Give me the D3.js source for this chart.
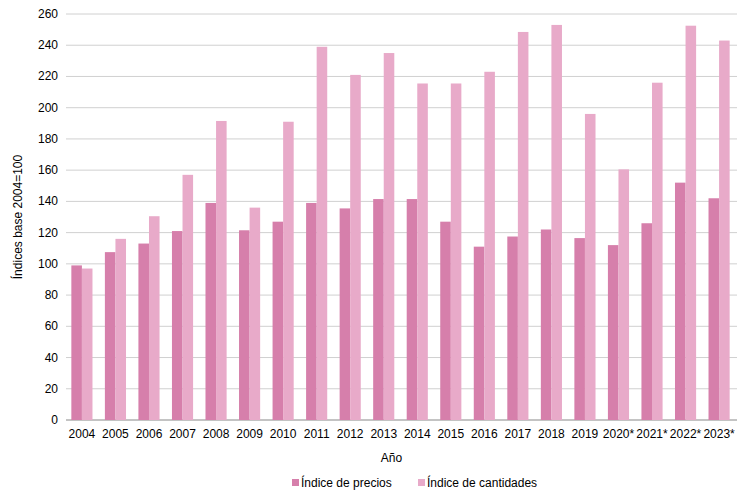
<!DOCTYPE html>
<html><head><meta charset="utf-8">
<script src="https://cdn.jsdelivr.net/npm/d3@7"></script>
<style>body{margin:0;background:#fff}text{font-family:Arial,"Liberation Sans",sans-serif}</style>
</head><body><svg id="c" width="742" height="490"></svg>
<script>
const years=["2004","2005","2006","2007","2008","2009","2010","2011","2012","2013","2014","2015","2016","2017","2018","2019","2020*","2021*","2022*","2023*"];
const precios=[99,107.5,113,121,139,121.5,127,139,135.5,141.5,141.5,127,111,117.5,122,116.5,112,126,152,142];
const cantidades=[97,116,130.5,157,191.5,136,191,239,221,235,215.5,215.5,223,248.5,253,196,160.5,216,252.5,243];
const yTicks=d3.range(0,261,20);
const series=[{name:"Índice de precios",vals:precios,color:"#d67fab"},{name:"Índice de cantidades",vals:cantidades,color:"#e8aac9"}];
const svg=d3.select("#c");
const L=66,R=737,T=14,B=420;
const x=d3.scaleBand().domain(years).range([L+2,R-4]).paddingInner(0.37).paddingOuter(0.1);
const x1=d3.scaleBand().domain([0,1]).range([0,x.bandwidth()]);
const y=d3.scaleLinear().domain([0,260]).range([B,T]);
svg.append("g").selectAll("line").data(yTicks).join("line").attr("x1",L).attr("x2",R).attr("y1",d=>y(d)).attr("y2",d=>y(d)).attr("stroke",d=>d===0?"#888":"#d0d0d0").attr("stroke-width",1);
svg.append("g").selectAll("text").data(yTicks).join("text").attr("x",L-8).attr("y",d=>y(d)+4).attr("text-anchor","end").attr("font-size",12).text(d=>d);
series.forEach((s,i)=>{
  svg.append("g").selectAll("rect").data(years).join("rect").attr("x",d=>x(d)+x1(i)).attr("width",x1.bandwidth()).attr("y",(d,j)=>y(s.vals[j])).attr("height",(d,j)=>B-y(s.vals[j])).attr("fill",s.color);
});
svg.append("g").selectAll("text").data(years).join("text").attr("x",d=>x(d)+x.bandwidth()/2).attr("y",B+18).attr("text-anchor","middle").attr("font-size",12).text(d=>d);
svg.append("text").attr("x",(L+R)/2-10).attr("y",462).attr("text-anchor","middle").attr("font-size",12).text("Año");
svg.append("text").attr("transform","translate(22,"+((T+B)/2)+") rotate(-90)").attr("text-anchor","middle").attr("font-size",12).text("Índices base 2004=100");
const lx=[292,418];
series.forEach((s,i)=>{
  svg.append("rect").attr("x",lx[i]).attr("y",479).attr("width",7).attr("height",7).attr("fill",s.color);
  svg.append("text").attr("x",lx[i]+9).attr("y",487).attr("font-size",12).text(s.name);
});
</script></body></html>
